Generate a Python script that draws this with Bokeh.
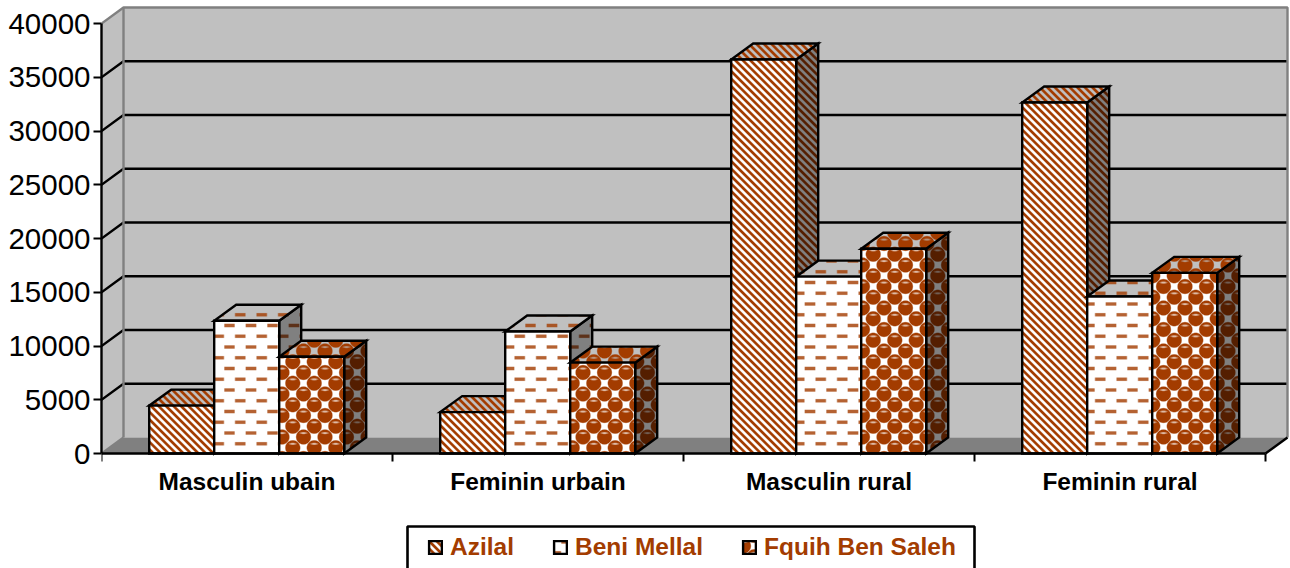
import base64, struct, zlib
import numpy as np
from bokeh.core.properties import value
from bokeh.embed import file_html
from bokeh.resources import INLINE
from bokeh.plotting import figure
from bokeh.models import (Range1d, FixedTicker, Legend, LegendItem, BoxAnnotation,
                          ImageURLTexture, BasicTickFormatter)

categories = ["Masculin ubain", "Feminin urbain", "Masculin rural", "Feminin rural"]
series_names = ["Azilal", "Beni Mellal", "Fquih Ben Saleh"]
azilal = [4450, 3850, 36650, 32650]
beni_mellal = [12350, 11350, 16450, 14600]
fquih = [9000, 8450, 19050, 16800]
y_ticks = [0, 5000, 10000, 15000, 20000, 25000, 30000, 35000, 40000]

BROWN = (163, 60, 0)
W, H = 1290, 568
X0, Y0 = 101, 453                # pixel position of the value/category origin
PX_X, PX_Y = 291.0, 10.75 / 1000  # px per category, px per unit
DX, DY = 22 / PX_X, 16 / PX_Y     # depth of the 3D box in data units


def png_uri(rgb):
    h, w, _ = rgb.shape
    raw = b"".join(b"\x00" + rgb[r].astype(np.uint8).tobytes() for r in range(h))
    def chunk(t, d):
        return struct.pack(">I", len(d)) + t + d + struct.pack(">I", zlib.crc32(t + d))
    png = b"\x89PNG\r\n\x1a\n" + chunk(b"IHDR", struct.pack(">IIBBBBB", w, h, 8, 2, 0, 0, 0)) \
        + chunk(b"IDAT", zlib.compress(raw)) + chunk(b"IEND", b"")
    return "data:image/png;base64," + base64.b64encode(png).decode()


def stripes_alpha():
    n = 15
    yy, xx = np.mgrid[0:n, 0:n]
    return np.clip(0.5 + 0.8 * np.cos(2 * np.pi * (xx - yy) * 2 / n), 0, 1)


def lattice(ox, oy, n=43, p=21.5):
    yy, xx = np.mgrid[0:n, 0:n] + 0.0
    u1 = ((xx - ox + p / 2) % p) - p / 2
    v1 = ((yy - oy + p / 2) % p) - p / 2
    u2 = ((xx - ox) % p) - p / 2
    v2 = ((yy - oy) % p) - p / 2
    d1 = u1 ** 2 + v1 ** 2
    d2 = u2 ** 2 + v2 ** 2
    first = d1 <= d2
    return np.where(first, u1, u2), np.where(first, v1, v2)


def dash_alpha():
    u, v = lattice(229 % 21.5, 325 % 21.5)
    return 0.8 * np.clip((6.0 - np.abs(u)) / 1.5, 0, 1) * np.clip((2.3 - np.abs(v)) / 1.2, 0, 1)


def ball_alpha():
    u, v = lattice(303 % 21.5, 372 % 21.5)
    d = np.sqrt(u ** 2 + v ** 2)
    a = np.clip((8.1 - d) / 1.3, 0, 1)
    hl = np.clip(1.4 - np.sqrt((u / 3.4) ** 2 + ((v + 3.9) / 1.1) ** 2), 0, 1)
    return a * (1 - 0.65 * hl)


ALPHAS = [stripes_alpha(), dash_alpha(), ball_alpha()]


def texture(alpha, bg, fg):
    a = alpha[..., None]
    return ImageURLTexture(url=png_uri(np.array(bg) * (1 - a) + np.array(fg) * a))


FACES = {
    "front": ((255, 255, 255), BROWN),
    "top": ((192, 192, 192), BROWN),
    "side": ((128, 128, 128), (84, 30, 0)),
}

p = figure(
    width=W, height=H, output_backend="svg", toolbar_location=None,
    x_range=Range1d(0, (W - X0) / PX_X), y_range=Range1d((Y0 - H) / PX_Y, Y0 / PX_Y),
    min_border_left=X0, min_border_right=0, min_border_top=0, min_border_bottom=0,
    frame_width=W - X0, frame_height=H,
    background_fill_color="white", outline_line_color=None,
    styles={"position": "absolute", "left": "0px", "top": "0px"},
)
p.grid.visible = False

# walls and floor
n = len(categories)
ymax = y_ticks[-1]
p.patch([0, DX, DX, 0], [0, DY, ymax + DY, ymax], fill_color="#C0C0C0", line_color=None)
p.patch([DX, n + DX, n + DX, DX], [DY, DY, ymax + DY, ymax + DY], fill_color="#C0C0C0", line_color=None)
p.patch([0, n, n + DX, DX], [0, 0, DY, DY], fill_color="#808080", line_color=None)

# wall lines
inner = y_ticks[1:-1]
p.multi_line([[0, DX, n + DX] for _ in inner], [[t, t + DY, t + DY] for t in inner],
             line_color="black", line_width=2.4)
p.line([0, DX, n + DX, n + DX], [ymax, ymax + DY, ymax + DY, DY], line_color="#808080", line_width=2.4)
p.line([DX, DX], [DY, ymax + DY], line_color="#808080", line_width=2.4)
p.line([0, DX], [0, DY], line_color="#808080", line_width=2.4)
p.line([n, n + DX], [0, DY], line_color="black", line_width=2.4)

# bars
bar_w = 65 / PX_X
shift = -0.3 / PX_X
legend_items = []
for s, (name, vals) in enumerate(zip(series_names, [azilal, beni_mellal, fquih])):
    lefts = [i + 0.5 + (s - 1.5) * bar_w + shift for i in range(n)]
    rights = [l + bar_w for l in lefts]
    style = dict(line_color="black", line_width=2.4, line_join="miter",
                 hatch_pattern=value("tex"), hatch_alpha=1.0)
    p.patches([[r, r + DX, r + DX, r] for r in rights],
              [[0, DY, v + DY, v] for v in vals],
              fill_color="#808080",
              hatch_extra={"tex": texture(ALPHAS[s], *FACES["side"])}, **style)
    p.patches([[l, r, r + DX, l + DX] for l, r in zip(lefts, rights)],
              [[v, v, v + DY, v + DY] for v in vals],
              fill_color="#C0C0C0",
              hatch_extra={"tex": texture(ALPHAS[s], *FACES["top"])}, **style)
    front = p.vbar(x=[(l + r) / 2 for l, r in zip(lefts, rights)], width=bar_w, bottom=0, top=vals,
                   fill_color="white",
                   hatch_extra={"tex": texture(ALPHAS[s], *FACES["front"])}, **style)
    legend_items.append(LegendItem(label=name, renderers=[front]))

# axes
xa = p.xaxis[0]
xa.fixed_location = 0
xa.bounds = (0, n)
xa.ticker = FixedTicker(ticks=[i + 0.5 for i in range(n)], minor_ticks=list(range(n + 1)))
xa.major_label_overrides = {i + 0.5: c for i, c in enumerate(categories)}
xa.major_tick_line_color = None
xa.major_tick_in = 0
xa.major_tick_out = 0
xa.minor_tick_in = 0
xa.minor_tick_out = 8
xa.minor_tick_line_color = "black"
xa.minor_tick_line_width = 2
xa.axis_line_color = "black"
xa.axis_line_width = 2.4
xa.major_label_standoff = 6
xa.major_label_text_font = "Liberation Sans"
xa.major_label_text_font_style = "bold"
xa.major_label_text_font_size = "24.5px"
xa.major_label_text_color = "black"

ya = p.yaxis[0]
ya.bounds = (0, ymax)
ya.ticker = FixedTicker(ticks=y_ticks)
ya.minor_tick_line_color = None
ya.formatter = BasicTickFormatter(use_scientific=False)
ya.major_tick_in = 0
ya.major_tick_out = 8
ya.major_tick_line_color = "black"
ya.major_tick_line_width = 2
ya.axis_line_color = "black"
ya.axis_line_width = 2.4
ya.major_label_standoff = 3
ya.major_label_text_font = "Liberation Sans"
ya.major_label_text_font_size = "29.5px"
ya.major_label_text_color = "black"

# legend
box = BoxAnnotation(left=407, right=974, top=526, bottom=580,
                    left_units="canvas", right_units="canvas", top_units="canvas", bottom_units="canvas",
                    fill_color="white", fill_alpha=1, line_color="black", line_alpha=1,
                    line_width=2.6, level="overlay")
p.add_layout(box)
legend = Legend(items=legend_items, orientation="horizontal", location=(326, 7),
                padding=0, margin=0, spacing=38, label_standoff=7,
                glyph_width=16, glyph_height=16,
                label_text_font="Liberation Sans", label_text_font_style="bold",
                label_text_font_size="24.5px", label_text_color="#A33C00",
                background_fill_alpha=0, border_line_color=None)
p.add_layout(legend, "center")

open("out.html", "w").write(file_html(p, INLINE))
